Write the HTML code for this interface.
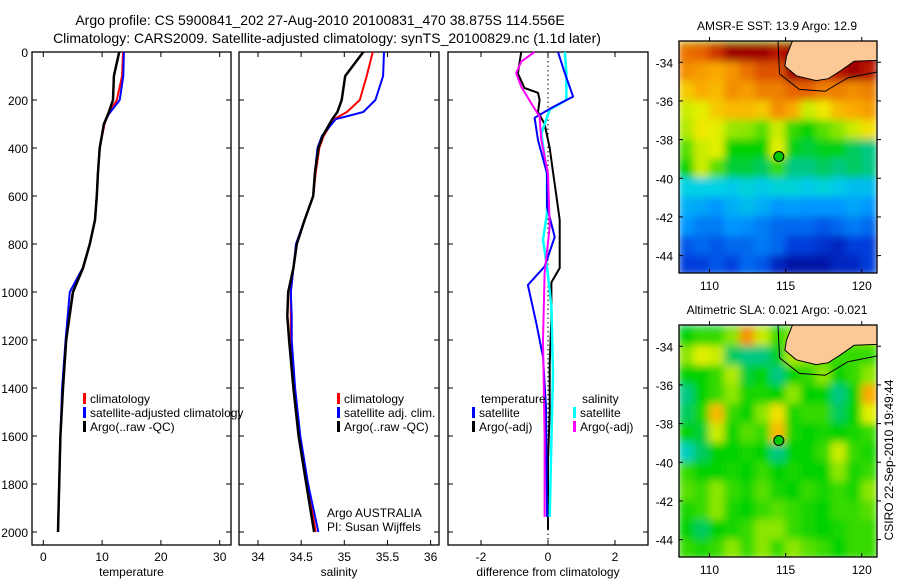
<!DOCTYPE html>
<html><head><meta charset="utf-8"><style>
body{margin:0;background:#fff}
svg{display:block;font-family:"Liberation Sans",sans-serif}
</style></head><body>
<svg id="fig" width="900" height="580" viewBox="0 0 900 580">
<defs>
<filter id="blur" x="0" y="0" width="1" height="1"><feGaussianBlur stdDeviation="4"/></filter>
<clipPath id="clipMap1"><rect x="679" y="41" width="198" height="232"/></clipPath>
<clipPath id="clipMap2"><rect x="679" y="325" width="198" height="232"/></clipPath>
</defs>
<text x="320" y="25" font-size="14" text-anchor="middle">Argo profile: CS 5900841_202 27-Aug-2010 20100831_470 38.875S 114.556E</text>
<text x="327" y="43" font-size="14" text-anchor="middle">Climatology: CARS2009. Satellite-adjusted climatology: synTS_20100829.nc (1.1d later)</text>
<g id="g"></g>
</svg>
<script>
// ---- depth data (m) ----
const tDepth=[0,100,200,260,300,400,500,600,700,800,900,1000,1200,1400,1600,1800,2000];
const tClim=[13.55,13.4,12.5,11.0,10.4,9.6,9.3,9.1,8.8,7.9,6.8,5.0,3.9,3.3,2.9,2.7,2.5];
const tSat=[13.7,13.6,13.0,11.1,10.3,9.6,9.3,9.1,8.8,7.9,6.7,4.5,3.8,3.2,2.9,2.7,2.5];
const tArgo=[12.9,12.0,11.85,11.0,10.3,9.6,9.3,9.1,8.8,7.9,6.75,5.05,3.9,3.35,2.9,2.7,2.5];
const sDepth=[0,100,200,250,280,350,400,500,600,700,800,900,1000,1100,1200,1400,1600,1800,2000];
const sClim=[35.33,35.26,35.18,35.03,34.88,34.76,34.71,34.67,34.64,34.54,34.45,34.41,34.38,34.38,34.38,34.42,34.48,34.57,34.67];
const sSat=[35.46,35.45,35.36,35.22,34.9,34.74,34.69,34.66,34.64,34.54,34.44,34.41,34.38,34.39,34.39,34.43,34.49,34.58,34.70];
const sArgo=[35.22,35.01,34.97,34.92,34.86,34.75,34.70,34.66,34.64,34.54,34.45,34.41,34.35,34.34,34.36,34.41,34.47,34.56,34.65];
const dDepth=[0,88,186,229,274,367,506,644,771,894,971,1130,1270,1479,1937];
const dTSat=[0.3,0.5,0.75,0.15,-0.4,-0.3,-0.03,-0.03,0.2,-0.1,-0.6,-0.35,-0.15,-0.06,-0.03];
const dTArgoDepth=[0,90,150,170,200,250,300,400,500,600,700,800,900,960,1100,1300,1500,1700,1990];
const dTArgo=[-0.8,-0.9,-0.7,-0.3,-0.25,-0.3,-0.1,0.05,0.15,0.25,0.35,0.35,0.35,0.1,0.1,0.05,0.05,0,0];
const dSDepth=[0,88,200,240,340,506,672,783,894,1061,1340,1618,1937];
const dSSat=[0.5,0.55,0.55,0.05,-0.2,-0.03,-0.03,-0.15,-0.03,0.1,0.15,0.1,0.05];
const dSArgoDepth=[0,40,88,144,214,269,367,506,729,922,1200,1600,1937];
const dSArgo=[-0.4,-0.8,-0.95,-0.8,-0.5,-0.25,-0.2,0,0.05,-0.1,-0.15,-0.1,-0.1];
const depthTicks=[0,200,400,600,800,1000,1200,1400,1600,1800,2000];
const tTicks=[0,10,20,30];
const sTicks=[34,34.5,35,35.5,36];
const dTicks=[-2,0,2];
// ---- map grids (colour index 0..1), rows lat -33.5..-44.5, cols lon 108.5..120.5 ----
const sstGrid=[
[.8,.82,.9,1,1,1,.95,1,1,1,1,1,1],
[.76,.74,.72,.75,.8,.85,.85,1,1,.9,.95,1,.95],
[.68,.72,.7,.76,.74,.78,.78,.82,.82,.78,.78,.76,.78],
[.6,.62,.68,.7,.7,.68,.76,.72,.6,.64,.7,.72,.74],
[.58,.64,.62,.56,.55,.52,.6,.5,.47,.52,.55,.6,.65],
[.52,.6,.62,.47,.47,.47,.62,.46,.44,.46,.46,.42,.4],
[.47,.6,.52,.44,.44,.42,.5,.4,.4,.42,.4,.42,.4],
[.33,.33,.33,.32,.34,.32,.34,.34,.32,.34,.32,.3,.3],
[.28,.27,.25,.28,.3,.28,.25,.26,.25,.25,.25,.27,.25],
[.25,.22,.22,.25,.24,.22,.2,.2,.2,.18,.2,.22,.2],
[.18,.2,.18,.2,.2,.22,.2,.15,.15,.12,.1,.15,.15],
[.15,.15,.18,.15,.2,.18,.1,.05,.05,.05,.1,.1,.15]];
const slaGrid=[
[.47,.5,.5,.55,.75,.6,.5,.55,.55,.55,.55,.55,.55],
[.55,.62,.6,.42,.4,.4,.45,.58,.55,.5,.5,.5,.5],
[.47,.47,.5,.58,.44,.47,.4,.47,.5,.55,.47,.5,.55],
[.4,.47,.5,.55,.48,.48,.47,.55,.47,.47,.4,.47,.72],
[.42,.48,.7,.5,.47,.55,.65,.48,.5,.5,.42,.47,.62],
[.47,.44,.6,.47,.52,.5,.7,.48,.47,.48,.47,.48,.5],
[.36,.42,.47,.47,.48,.47,.4,.47,.47,.5,.6,.5,.48],
[.5,.47,.47,.48,.47,.5,.47,.48,.47,.47,.55,.48,.5],
[.52,.5,.55,.5,.48,.52,.48,.47,.5,.48,.5,.48,.55],
[.48,.5,.55,.48,.47,.5,.52,.5,.48,.47,.5,.5,.52],
[.47,.42,.47,.48,.5,.55,.55,.5,.48,.47,.48,.5,.5],
[.5,.48,.5,.55,.5,.55,.5,.55,.52,.5,.47,.5,.5]];
const latTicks=[-34,-36,-38,-40,-42,-44];
const lonTicks=[110,115,120];
const argoLon=114.556, argoLat=-38.875;
const coastLon=[115.45,115.05,114.95,115.7,117.0,117.8,118.6,119.5,121];
const coastLat=[-32.9,-33.7,-34.2,-34.7,-34.95,-34.85,-34.45,-33.95,-33.9];
const shelfLon=[114.5,114.6,115.9,117.6,119.1,121];
const shelfLat=[-32.9,-34.6,-35.4,-35.5,-34.8,-34.5];

const NS='http://www.w3.org/2000/svg';
const G=document.getElementById('g');
function mk(tag,attrs,parent){const e=document.createElementNS(NS,tag);for(const k in attrs)e.setAttribute(k,attrs[k]);(parent||G).appendChild(e);return e;}
const yD=d=>52+0.24*d;
const xT=v=>43.3+5.88*v;
const xS=v=>258+86.3*(v-34);
const xDf=v=>548+33.5*v;
const panels=[{x0:32,x1:231,sx:xT,ticks:tTicks,lab:'temperature',n:'temperature'},
{x0:239,x1:439,sx:xS,ticks:sTicks,lab:'salinity',n:'salinity'},
{x0:448,x1:648,sx:xDf,ticks:dTicks,lab:'difference from climatology',n:'difference'}];
const yTop=52,yBot=545;
panels.forEach((p,i)=>{
 const r=mk('rect',{x:p.x0,y:yTop,width:p.x1-p.x0,height:yBot-yTop,fill:'none',stroke:'#000','stroke-width':1.3});
 
 
 depthTicks.forEach(d=>{
  const y=yD(d);
  const t1=mk('line',{x1:p.x0,x2:p.x0+5,y1:y,y2:y,stroke:'#000'});
  
  
  const t2=mk('line',{x1:p.x1-5,x2:p.x1,y1:y,y2:y,stroke:'#000'});
  
  
  if(i===0){const tx=mk('text',{x:28,y:y+5,'font-size':12,'text-anchor':'end'});tx.textContent=d;
   
   }
 });
 p.ticks.forEach(v=>{
  const x=p.sx(v);
  const a=mk('line',{x1:x,x2:x,y1:yBot,y2:yBot-5,stroke:'#000'});
  
  
  const b=mk('line',{x1:x,x2:x,y1:yTop,y2:yTop+5,stroke:'#000'});
  
  
  const tx=mk('text',{x:x,y:561,'font-size':12,'text-anchor':'middle'});tx.textContent=v;
  
  
 });
 const xl=mk('text',{x:(p.x0+p.x1)/2,y:576,'font-size':12,'text-anchor':'middle'});xl.textContent=p.lab;
 
 
});
const zl=mk('line',{x1:xDf(0),x2:xDf(0),y1:yTop,y2:yBot,stroke:'#000','stroke-dasharray':'1.5,3'});


function line(depths,vals,sx,color,name,w){
 const pts=depths.map((d,i)=>sx(vals[i]).toFixed(1)+','+yD(d).toFixed(1)).join(' ');
 const e=mk('polyline',{points:pts,fill:'none',stroke:color,'stroke-width':w||2,'stroke-linejoin':'round'});
 
 
}
line(tDepth,tClim,xT,'#f00','temp-climatology-line');
line(tDepth,tSat,xT,'#00f','temp-satellite-line');
line(tDepth,tArgo,xT,'#000','temp-argo-line',2.5);
line(sDepth,sClim,xS,'#f00','sal-climatology-line');
line(sDepth,sSat,xS,'#00f','sal-satellite-line');
line(sDepth,sArgo,xS,'#000','sal-argo-line',2.5);
line(dTArgoDepth,dTArgo,xDf,'#000','diff-temp-argo-line');
line(dSDepth,dSSat,xDf,'#0ff','diff-sal-satellite-line',2.5);
line(dDepth,dTSat,xDf,'#00f','diff-temp-satellite-line');
line(dSArgoDepth,dSArgo,xDf,'#f0f','diff-sal-argo-line');
function leg(x,y,color,text,name){
 if(color){const m=mk('rect',{x:x,y:y-10,width:3,height:11,fill:color});
  
  }
 const t=mk('text',{x:x+7,y:y,'font-size':12});t.textContent=text;
 
 
}
leg(83,403,'#f00','climatology','legend-climatology');
leg(83,417,'#00f','satellite-adjusted climatology','legend-satellite-adjusted');
leg(83,431,'#000','Argo(..raw -QC)','legend-argo');
leg(337,403,'#f00','climatology','legend-sal-climatology');
leg(337,417,'#00f','satellite adj. clim.','legend-sal-satellite');
leg(337,431,'#000','Argo(..raw -QC)','legend-sal-argo');
leg(474,403,null,'temperature','legend-temperature-header');
leg(472,417,'#00f','satellite','legend-diff-temp-satellite');
leg(472,431,'#000','Argo(-adj)','legend-diff-temp-argo');
leg(575,403,null,'salinity','legend-salinity-header');
leg(573,417,'#0ff','satellite','legend-diff-sal-satellite');
leg(573,431,'#f0f','Argo(-adj)','legend-diff-sal-argo');
const a1=mk('text',{x:327,y:517,'font-size':12});a1.textContent='Argo AUSTRALIA';


const a2=mk('text',{x:327,y:531,'font-size':12});a2.textContent='PI: Susan Wijffels';


// ---- maps ----
const cmapStops=[[0,0,0,140],[.15,0,60,220],[.25,0,150,255],[.33,0,210,230],[.4,0,200,130],[.47,0,210,0],[.55,140,230,0],[.63,240,240,0],[.72,250,170,0],[.82,230,100,0],[.92,200,40,0],[1,160,0,0]];
function cmap(v){
 v=Math.max(0,Math.min(1,v));
 for(let i=1;i<cmapStops.length;i++){
  const a=cmapStops[i-1],b=cmapStops[i];
  if(v<=b[0]){const f=(v-a[0])/(b[0]-a[0]);
   return 'rgb('+[1,2,3].map(k=>Math.round(a[k]+f*(b[k]-a[k]))).join(',')+')';}
 }
 return 'rgb(160,0,0)';
}
function drawMap(top,grid,title,name,clip){
 const x0=679,w=198,h=232;
 const lx=lon=>x0+(lon-108)*w/13;
 const ly=lat=>top+(-32.9-lat)*h/12;
 const grp=mk('g',{'clip-path':'url(#'+clip+')'});
 
 
 const inner=mk('g',{filter:'url(#blur)'},grp);
 mk('rect',{x:x0,y:top,width:w,height:h,fill:cmap(grid[6][6])},inner);
 grid.forEach((row,r)=>row.forEach((v,c)=>{
  const cell=mk('rect',{x:lx(108+c)-0.5,y:ly(-33-r)-0.5,width:w/13+1,height:h/12+1,fill:cmap(v)},inner);
  
  
 }));
 const sh=shelfLon.map((l,i)=>lx(l)+','+ly(shelfLat[i])).join(' ');
 const sp=mk('polyline',{points:sh,fill:'none',stroke:'#000','stroke-width':1},grp);
 
 
 const land=coastLon.map((l,i)=>lx(l)+','+ly(coastLat[i])).join(' ')+' '+lx(121)+','+ly(-32.9);
 const lp=mk('polygon',{points:land,fill:'#fcc896',stroke:'#000','stroke-width':1},grp);
 
 
 const fr=mk('rect',{x:x0,y:top,width:w,height:h,fill:'none',stroke:'#000','stroke-width':1.3});
 
 
 const ac=mk('circle',{cx:lx(argoLon),cy:ly(argoLat),r:5,fill:'#00c800',stroke:'#000'});
 
 
 latTicks.forEach(l=>{
  const y=ly(l);
  const t=mk('line',{x1:x0,x2:x0+4,y1:y,y2:y,stroke:'#000'});
  
  
  const t2=mk('line',{x1:x0+w,x2:x0+w+4,y1:y,y2:y,stroke:'#000'});
  
  
  const tx=mk('text',{x:673,y:y+5,'font-size':12,'text-anchor':'end'});tx.textContent=l;
  
  
 });
 lonTicks.forEach(l=>{
  const x=lx(l);
  const t=mk('line',{x1:x,x2:x,y1:top+h,y2:top+h-4,stroke:'#000'});
  
  
  const t2=mk('line',{x1:x,x2:x,y1:top,y2:top-4,stroke:'#000'});
  
  
  const tx=mk('text',{x:x,y:top+h+17,'font-size':12,'text-anchor':'middle'});tx.textContent=l;
  
  
 });
 const tt=mk('text',{x:x0+w/2-1,y:top-11,'font-size':12,'text-anchor':'middle'});tt.textContent=title;
 
 
}
drawMap(41,sstGrid,'AMSR-E SST: 13.9 Argo: 12.9','sst','clipMap1');
drawMap(325,slaGrid,'Altimetric SLA: 0.021  Argo: -0.021','sla','clipMap2');
const cs=mk('text',{x:0,y:0,'font-size':12,'text-anchor':'middle',transform:'translate(893,460) rotate(-90)'});
cs.textContent='CSIRO 22-Sep-2010 19:49:44';


</script>
</body></html>
